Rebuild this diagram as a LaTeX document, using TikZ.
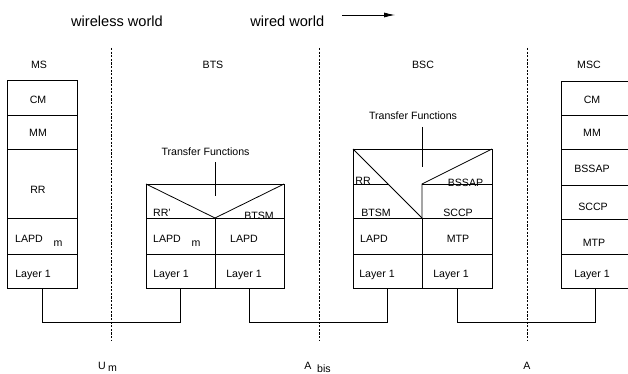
\documentclass[tikz,border=0pt]{standalone}
\usepackage{fontspec}
\setmainfont{Liberation Sans}
\usetikzlibrary{arrows.meta}
\begin{document}
\begin{tikzpicture}[x=1pt,y=-1pt,
  line width=0.8pt,
  cell/.style={draw, inner sep=0pt, outer sep=0pt, minimum width=#1},
  lbl/.style={inner sep=0pt, anchor=base, font=\fontsize{10.6}{12}\selectfont},
  big/.style={inner sep=0pt, anchor=base, font=\fontsize{14.6}{16}\selectfont},
  iface/.style={dash pattern=on 2.2pt off 1.4pt, line width=0.7pt}]
\useasboundingbox (0,0) rectangle (628,374);
\clip (0,0) rectangle (628,374);

% headings
\node[big] (wless) at (117,26.5) {wireless world};
\node[big, anchor=base west] (wired) at (250,26.5) {wired world};
\coordinate (arrA) at (342,15);
\coordinate (arrB) at (395,15);
\draw[line width=0.8pt, -{Latex[length=11pt,width=5pt]}] (arrA) -- (arrB);

% interfaces
\coordinate (d1t) at (111,48); \coordinate (d1b) at (111,341);
\coordinate (d2t) at (319,48); \coordinate (d2b) at (319,341);
\coordinate (d3t) at (527,48); \coordinate (d3b) at (527,341);
\draw[iface] (d1t) -- (d1b);
\draw[iface] (d2t) -- (d2b);
\draw[iface] (d3t) -- (d3b);

% entity names
\node[lbl] (tms) at (39,69) {MS};
\node[lbl] (tbts) at (213,69) {BTS};
\node[lbl] (tbsc) at (423,69) {BSC};
\node[lbl] (tmsc) at (589,69) {MSC};

% ---------- MS ----------
\node[cell=70pt, minimum height=35pt] (mscm) at (42,97.5) {};
\node[cell=70pt, minimum height=34pt] (msmm) at (42,132) {};
\node[cell=70pt, minimum height=69pt] (msrr) at (42,183.5) {};
\node[cell=70pt, minimum height=36pt] (mslapd) at (42,236) {};
\node[cell=70pt, minimum height=34pt] (msl1) at (42,271) {};
\node[lbl] (t1) at (38,104) {CM};
\node[lbl] (t2) at (38,137) {MM};
\node[lbl] (t3) at (38,193) {RR};
\node[lbl] (t4) at (29,242) {LAPD};
\node[lbl] (t5) at (58,246) {m};
\node[lbl] (t6) at (33,277) {Layer 1};

% ---------- BTS ----------
\coordinate (btsTL) at (146,184);
\coordinate (btsTR) at (284,184);
\coordinate (btsApex) at (215,218);
\coordinate (btsBL) at (146,218);
\coordinate (btsBR) at (284,218);
\draw (btsBL) -- (btsTL) -- (btsTR) -- (btsBR) -- cycle;
\draw (btsTL) -- (btsApex) -- (btsTR);
\node[cell=69pt, minimum height=36pt] (btslapdm) at (180.5,236) {};
\node[cell=69pt, minimum height=36pt] (btslapd) at (249.5,236) {};
\node[cell=69pt, minimum height=34pt] (btsl1a) at (180.5,271) {};
\node[cell=69pt, minimum height=34pt] (btsl1b) at (249.5,271) {};
\node[lbl] (tf1) at (205.5,156) {Transfer Functions};
\coordinate (tf1a) at (215,162);
\coordinate (tf1b) at (215,196);
\draw (tf1a) -- (tf1b);
\node[lbl] (b1) at (162,216) {RR'};
\node[lbl] (b2) at (259,219.5) {BTSM};
\node[lbl] (b3) at (167,242) {LAPD};
\node[lbl] (b4) at (196,246) {m};
\node[lbl] (b5) at (244,242) {LAPD};
\node[lbl] (b6) at (171,277) {Layer 1};
\node[lbl] (b7) at (244,277) {Layer 1};
% redraw row line over BTSM text
\draw (btsBL) -- (btsBR);

% ---------- BSC ----------
\coordinate (bscTL) at (353,149);
\coordinate (bscTR) at (492,149);
\coordinate (bscML) at (353,218);
\coordinate (bscMR) at (492,218);
\coordinate (bscDiag) at (422,218);
\coordinate (bscRRl) at (353,184);
\coordinate (bscRRr) at (388,184);
\coordinate (bscMid) at (422,184);
\coordinate (bscMidR) at (493,184);
\node[lbl] (c1) at (363,184) {RR};
\node[lbl] (c2) at (465.5,186) {BSSAP};
\node[lbl] (c3) at (376,216) {BTSM};
\node[lbl] (c4) at (458,216) {SCCP};
\node[lbl] (c5) at (374,242) {LAPD};
\node[lbl] (c6) at (458,242) {MTP};
\node[lbl] (c7) at (377,277) {Layer 1};
\node[lbl] (c8) at (451,277) {Layer 1};
\draw (bscML) -- (bscTL) -- (bscTR) -- (bscMR) -- cycle;
\draw (bscTL) -- (bscDiag);
\draw (bscRRl) -- (bscRRr);
\draw (bscDiag) -- (bscMid) -- (bscTR);
\draw (bscMid) -- (bscMidR);
\node[cell=69pt, minimum height=36pt] (bsclapd) at (387.5,236) {};
\node[cell=70pt, minimum height=36pt] (bscmtp) at (457,236) {};
\node[cell=69pt, minimum height=34pt] (bscl1a) at (387.5,271) {};
\node[cell=70pt, minimum height=34pt] (bscl1b) at (457,271) {};
\node[lbl] (tf2) at (413,120) {Transfer Functions};
\coordinate (tf2a) at (422,127);
\coordinate (tf2b) at (422,167);
\draw (tf2a) -- (tf2b);

% ---------- MSC ----------
\node[cell=69pt, minimum height=34pt] (msccm) at (595.5,98) {};
\node[cell=69pt, minimum height=34pt] (mscmm) at (595.5,132) {};
\node[cell=69pt, minimum height=36pt] (mscbssap) at (595.5,167) {};
\node[cell=69pt, minimum height=34pt] (mscsccp) at (595.5,202) {};
\node[cell=69pt, minimum height=35pt] (mscmtp) at (595.5,236.5) {};
\node[cell=69pt, minimum height=34pt] (mscl1) at (595.5,271) {};
\node[lbl] (m1) at (592,104) {CM};
\node[lbl] (m2) at (592,137) {MM};
\node[lbl] (m3) at (592,172) {BSSAP};
\node[lbl] (m4) at (593,210) {SCCP};
\node[lbl] (m5) at (594,246) {MTP};
\node[lbl] (m6) at (592,277) {Layer 1};

% ---------- physical links ----------
\coordinate (bus) at (0,322);
\draw (msl1.south) -- (msl1.south |- bus) -| (btsl1a.south);
\draw (btsl1b.south) -- (btsl1b.south |- bus) -| (bscl1a.south);
\draw (bscl1b.south) -- (bscl1b.south |- bus) -| (mscl1.south);

% interface names
\node[lbl] (um) at (102,369.5) {U};
\node[lbl] (ums) at (112.5,371.5) {m};
\node[lbl] (ab) at (308,369.5) {A};
\node[lbl] (abs) at (324,372) {bis};
\node[lbl] (aa) at (527,369.5) {A};
\end{tikzpicture}
\end{document}
